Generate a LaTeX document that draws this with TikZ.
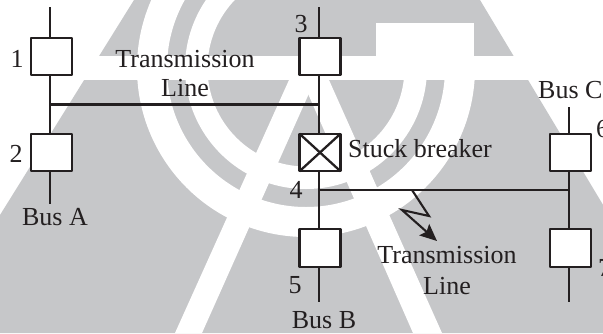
\documentclass[tikz,border=0pt]{standalone}
\usepackage{fontspec}
\setmainfont{Liberation Serif}
\usetikzlibrary{arrows.meta}
\definecolor{wm}{HTML}{C6C7C9}
\definecolor{ink}{HTML}{231F20}
\tikzset{
  brk/.style={draw=ink,line width=2.4pt,fill=white,minimum width=41pt,minimum height=37.5pt,inner sep=0pt,outer sep=0pt,line join=round,rectangle},
  wire/.style={draw=ink,line width=2.3pt},
  tline/.style={draw=ink,line width=2.1pt},
  lab/.style={text=ink,font=\fontsize{26}{26}\selectfont,anchor=base,inner sep=0pt},
}
\begin{document}
\begin{tikzpicture}[x=1pt,y=-1pt]
\useasboundingbox (0,0) rectangle (603,333);
% watermark
\fill[white] (0,0) rectangle (603,333);
\begin{scope}
\clip (0,0) rectangle (603,333);
\fill[wm] (134,0) -- (480,0) -- (680,333) -- (0,333) -- (0,215) -- cycle;
\begin{scope}
\clip (0,0) -- (376,0) -- (376,60) -- (603,60) -- (603,333) -- (0,333) -- cycle;
\fill[white,even odd rule] (306,68) circle[radius=169] (306,68) circle[radius=139];
\fill[white,even odd rule] (306,68) circle[radius=121] (306,68) circle[radius=98.5];
\end{scope}
\fill[white] (175,333) -- (202,333) -- (315,80) -- (289,80) -- cycle;
\fill[white] (413,333) -- (442,333) -- (329,80) -- (302,80) -- cycle;
\fill[white] (80,56) rectangle (540,80);
\fill[white] (376,23) rectangle (474,56);
\end{scope}
% bus ends and junctions
\coordinate (t1) at (50,7);
\coordinate (t2) at (50,204);
\coordinate (t3) at (319,7);
\coordinate (t5) at (319,302);
\coordinate (t6) at (569,107);
\coordinate (t7) at (569,302);
\coordinate (ja) at (50,104.5);
\coordinate (jb) at (319,104.5);
\coordinate (jc) at (319,190);
\coordinate (jd) at (569,190);
% breakers
\node[brk] (b1) at (51.5,56.5) {};
\node[brk] (b2) at (51.5,152.5) {};
\node[brk] (b3) at (320,56.5) {};
\node[brk] (b4) at (320,152.5) {};
\node[brk] (b5) at (320,248) {};
\node[brk] (b6) at (570.5,152.5) {};
\node[brk] (b7) at (570.5,248) {};
\draw[wire] (b4.north west) -- (b4.south east);
\draw[wire] (b4.north east) -- (b4.south west);
% connectors
\draw[wire] (t1) -- (t1 |- b1.north);
\draw[wire] (t1 |- b1.south) -- (t1 |- b2.north);
\draw[wire] (t1 |- b2.south) -- (t2);
\draw[wire] (t3) -- (t3 |- b3.north);
\draw[wire] (t3 |- b3.south) -- (t3 |- b4.north);
\draw[wire] (t3 |- b4.south) -- (t3 |- b5.north);
\draw[wire] (t3 |- b5.south) -- (t5);
\draw[wire] (t6) -- (t6 |- b6.north);
\draw[wire] (t6 |- b6.south) -- (t6 |- b7.north);
\draw[wire] (t6 |- b7.south) -- (t7);
\draw[tline] (ja) -- (jb);
\draw[tline] (jc) -- (jd);
% fault
\coordinate (f0) at (412,190);
\coordinate (f1) at (429,216);
\coordinate (f2) at (402,210);
\coordinate (f3) at (437,241);
\draw[draw=ink,line width=2.1pt,line join=miter,-{Stealth[length=17pt,width=15pt,inset=3pt]}] (f0) -- (f1) -- (f2) -- (f3);
% labels
\node[lab] (l1) at (17,67) {1};
\node[lab] (l2) at (16,162) {2};
\node[lab] (l3) at (301,32) {3};
\node[lab] (l4) at (296,198) {4};
\node[lab] (l5) at (295,293) {5};
\node[lab,anchor=base west] (l6) at (596,137) {6};
\node[lab,anchor=base west] (l7) at (598,276) {7};
\node[lab] (tl1) at (185,67) {Transmission};
\node[lab] (tl2) at (185,96) {Line};
\node[lab] (tl3) at (447,263) {Transmission};
\node[lab] (tl4) at (447,294) {Line};
\node[lab,anchor=base west] (sb) at (348,157) {Stuck breaker};
\node[lab,anchor=base west] (bc) at (538,98) {Bus C};
\node[lab] (ba) at (55,225) {Bus A};
\node[lab] (bb) at (324,328) {Bus B};
\end{tikzpicture}
\end{document}
